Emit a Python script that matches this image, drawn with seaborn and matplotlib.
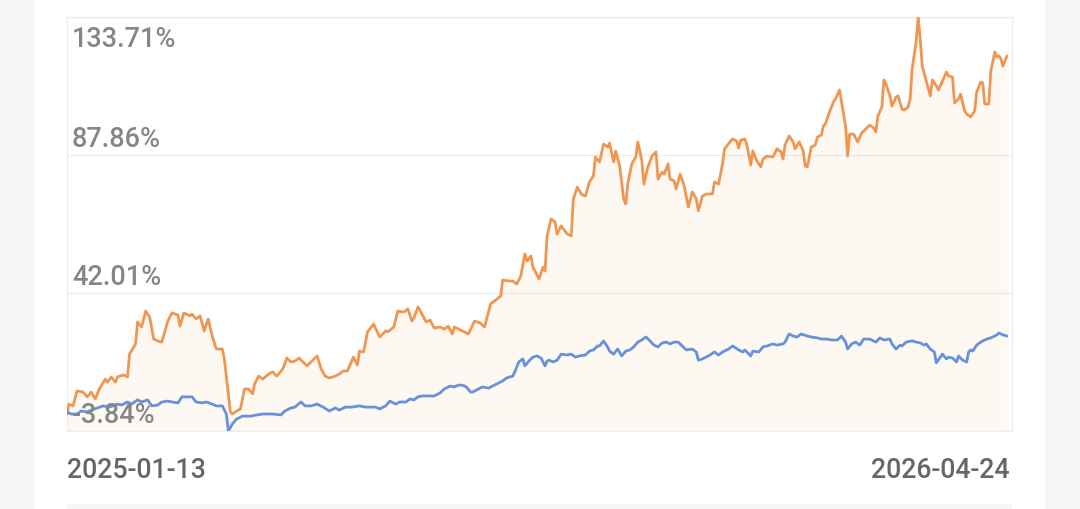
import matplotlib
matplotlib.use("Agg")
import matplotlib.pyplot as plt
from matplotlib.patches import Rectangle
import numpy as np
import pandas as pd
import seaborn as sns

# ---------------- data ----------------
start_date = "2025-01-13"
end_date = "2026-04-24"
y_ticks = [-3.84, 42.01, 87.86, 133.71]
y_tick_labels = ["-3.84%", "42.01%", "87.86%", "133.71%"]

# orange series: calendar-day offset from start date, cumulative return (%)
orange_days = [0, 1, 3, 5, 8, 10, 12, 14, 16, 19, 20, 22, 24, 25, 28, 30, 31, 34, 35, 37,
               39, 41, 43, 45, 47, 50, 52, 55, 56, 58, 61, 62, 64, 66, 68, 70, 72, 74, 77, 78,
               81, 82, 84, 86, 88, 90, 92, 93, 95, 97, 100, 102, 104, 107, 109, 111, 113, 115, 117, 119,
               121, 124, 126, 128, 130, 133, 135, 137, 139, 142, 144, 145, 147, 149, 152, 155, 158, 159, 162, 164,
               167, 169, 171, 172, 174, 176, 178, 180, 182, 185, 187, 189, 191, 192, 195, 197, 199, 202, 205, 207,
               210, 212, 215, 216, 219, 221, 223, 225, 227, 228, 230, 231, 234, 236, 237, 238, 240, 242, 243, 245,
               248, 250, 251, 253, 255, 257, 259, 261, 262, 264, 266, 268, 269, 271, 272, 274, 276, 277, 278, 280,
               282, 283, 285, 286, 288, 290, 292, 293, 295, 296, 298, 299, 301, 302, 304, 306, 308, 310, 312, 313,
               315, 317, 320, 321, 323, 325, 326, 329, 330, 332, 333, 334, 336, 337, 339, 340, 342, 344, 345, 347,
               350, 352, 354, 355, 356, 358, 360, 361, 363, 365, 366, 367, 369, 371, 372, 374, 375, 376, 378, 380,
               381, 383, 384, 386, 387, 388, 390, 392, 394, 396, 398, 400, 401, 402, 404, 405, 406, 408, 409, 411,
               412, 414, 415, 417, 418, 419, 421, 422, 423, 424, 426, 428, 429, 431, 432, 434, 436, 437, 439, 440,
               442, 443, 445, 446, 448, 450, 451, 453, 454, 455, 457, 458, 460, 461, 462, 463, 464, 466]
orange_vals = [1.8, 5.1, 4.5, 9.5, 9.1, 7.5, 9.1, 6.8, 10.1, 13.4, 12.4, 14.1, 12.4, 14.1, 14.8, 14.1, 21.7, 25.1, 32.4, 30.7,
               36.0, 34.0, 26.7, 26.1, 25.7, 32.7, 35.4, 34.7, 31.0, 35.4, 34.4, 35.0, 33.4, 34.4, 29.4, 33.4, 27.7, 23.4, 23.4, 20.1,
               2.5, 1.8, 2.8, 3.5, 10.1, 10.1, 8.5, 11.8, 14.4, 13.4, 15.1, 15.8, 14.4, 16.8, 20.4, 19.1, 19.4, 20.4, 19.1, 17.8,
               19.1, 21.1, 16.8, 14.4, 13.8, 14.4, 15.1, 16.1, 16.1, 20.7, 18.1, 22.7, 22.4, 29.1, 31.7, 27.4, 29.4, 29.1, 30.7, 36.0,
               35.7, 36.7, 32.7, 33.7, 37.4, 35.0, 32.4, 33.0, 30.4, 30.7, 30.0, 31.0, 28.4, 30.7, 29.7, 29.1, 28.4, 32.7, 32.0, 30.7,
               38.4, 39.4, 41.0, 46.3, 46.0, 46.0, 45.0, 47.7, 55.0, 52.6, 54.3, 50.6, 46.7, 50.6, 49.3, 61.0, 66.6, 65.6, 61.6, 64.3,
               61.6, 61.0, 73.2, 77.2, 74.9, 74.2, 78.9, 80.9, 87.2, 85.5, 91.5, 90.5, 91.8, 85.5, 89.2, 84.2, 73.2, 71.6, 78.2, 84.9,
               87.2, 92.2, 85.9, 78.2, 83.9, 87.5, 88.9, 79.9, 82.2, 81.5, 84.9, 79.9, 79.2, 76.6, 81.5, 77.6, 70.6, 75.6, 73.2, 69.3,
               74.2, 74.9, 74.9, 78.9, 78.2, 84.9, 89.9, 92.5, 93.2, 92.5, 90.2, 92.8, 93.2, 91.5, 84.5, 89.2, 85.9, 83.9, 86.5, 87.5,
               87.2, 89.9, 88.9, 86.5, 91.2, 94.2, 92.2, 89.9, 92.2, 89.2, 84.2, 83.9, 90.5, 91.2, 93.8, 94.5, 97.5, 98.2, 102.1, 105.5,
               106.5, 109.5, 105.5, 97.5, 87.5, 94.8, 94.8, 92.2, 95.2, 96.5, 97.8, 96.8, 95.5, 100.8, 103.8, 112.8, 111.5, 107.5, 104.1, 107.1,
               107.5, 103.1, 102.8, 103.8, 106.5, 116.4, 125.7, 133.71, 126.4, 117.4, 112.4, 107.5, 112.8, 110.8, 109.5, 112.4, 115.4, 114.1, 113.8, 105.1,
               106.5, 108.1, 102.5, 101.5, 100.5, 102.5, 108.8, 112.1, 111.8, 104.8, 104.8, 115.8, 122.1, 120.4, 120.8, 119.8, 117.4, 120.8]

# blue series: calendar-day offset from start date, cumulative return (%)
blue_days = [0, 2, 5, 7, 10, 12, 15, 18, 21, 25, 27, 30, 32, 35, 37, 40, 42, 45, 47, 50,
             52, 55, 57, 59, 62, 64, 67, 69, 72, 74, 77, 79, 80, 82, 84, 87, 91, 94, 97, 102,
             106, 108, 111, 113, 116, 118, 121, 124, 127, 130, 133, 135, 138, 141, 145, 148, 150, 153, 155, 158,
             160, 163, 165, 168, 170, 172, 174, 176, 179, 182, 185, 187, 190, 192, 194, 196, 198, 200, 201, 204,
             206, 209, 211, 214, 216, 218, 221, 222, 224, 226, 227, 229, 231, 233, 235, 237, 238, 239, 241, 243,
             245, 248, 250, 252, 254, 257, 259, 261, 263, 264, 266, 268, 269, 271, 273, 275, 277, 279, 281, 283,
             285, 287, 289, 291, 293, 295, 297, 299, 301, 303, 305, 307, 310, 312, 313, 315, 318, 321, 323, 325,
             328, 330, 333, 335, 336, 339, 340, 343, 345, 347, 350, 352, 355, 356, 358, 360, 362, 364, 367, 369,
             372, 374, 377, 379, 382, 384, 386, 387, 389, 391, 393, 395, 398, 401, 403, 405, 408, 409, 411, 413,
             414, 416, 419, 421, 423, 425, 426, 428, 430, 431, 433, 434, 436, 437, 439, 441, 442, 444, 446, 447,
             448, 449, 451, 453, 454, 456, 458, 459, 461, 462, 464, 466]
blue_vals = [2.5, 1.8, 1.8, 2.8, 2.5, 3.1, 3.8, 4.5, 4.1, 5.1, 4.8, 5.8, 5.1, 6.5, 5.8, 6.5, 4.5, 4.8, 5.8, 6.1,
             5.8, 5.5, 7.5, 7.5, 7.5, 5.8, 5.5, 5.8, 5.1, 4.5, 4.5, 1.8, -3.84, -1.5, 0.1, 1.1, 1.1, 1.5, 1.8, 1.8,
             1.5, 2.8, 3.8, 4.1, 5.8, 4.5, 4.5, 5.1, 4.1, 2.8, 3.8, 3.1, 4.1, 4.1, 4.5, 4.1, 4.1, 4.1, 3.5, 4.5,
             6.1, 5.1, 5.8, 5.8, 6.8, 6.5, 7.5, 7.8, 7.8, 7.8, 8.8, 10.1, 11.1, 10.8, 11.4, 11.4, 10.8, 9.1, 9.1, 10.1,
             10.8, 10.4, 11.1, 12.1, 12.8, 13.8, 14.4, 15.8, 19.1, 20.1, 17.8, 19.4, 20.7, 21.1, 20.4, 17.8, 19.4, 19.7, 19.1, 19.7,
             21.7, 21.4, 21.7, 20.7, 21.1, 21.4, 22.7, 23.1, 24.4, 24.4, 26.1, 24.1, 22.7, 21.7, 23.4, 21.1, 22.7, 23.1, 24.1, 25.7,
             26.4, 27.4, 26.1, 24.7, 24.1, 25.4, 25.7, 25.1, 25.7, 25.7, 24.4, 23.1, 23.4, 22.4, 19.7, 20.1, 21.1, 22.4, 21.4, 22.4,
             23.4, 24.4, 23.1, 22.4, 23.1, 21.1, 22.7, 22.4, 24.1, 24.4, 25.1, 24.7, 25.1, 25.7, 28.4, 27.7, 27.4, 28.4, 27.7, 27.4,
             27.1, 26.7, 26.7, 26.4, 26.4, 27.7, 25.7, 23.4, 25.1, 25.7, 24.7, 26.7, 26.7, 25.7, 27.1, 26.4, 26.7, 25.1, 23.4, 24.7,
             24.4, 25.7, 26.1, 25.7, 25.4, 24.7, 25.1, 23.4, 22.4, 18.8, 20.7, 21.7, 20.1, 20.7, 20.4, 19.1, 21.1, 19.7, 19.1, 22.4,
             23.1, 22.7, 24.7, 25.7, 26.1, 26.7, 27.1, 27.4, 28.1, 28.7, 28.1, 27.7]

# ---------------- frames ----------------
t0 = pd.Timestamp(start_date)
orange_df = pd.DataFrame({"date": t0 + pd.to_timedelta(orange_days, unit="D"), "ret": orange_vals})
blue_df = pd.DataFrame({"date": t0 + pd.to_timedelta(blue_days, unit="D"), "ret": blue_vals})

# ---------------- style ----------------
sns.set_theme(style="white")
plt.rcParams["font.family"] = ["Roboto", "DejaVu Sans"]

W, H = 1080, 510
fig = plt.figure(figsize=(W / 100, H / 100), dpi=100, facecolor="#f5f5f5")

# white card and lower strip
fig.add_artist(Rectangle((34 / W, 0), (1045 - 34) / W, 1, transform=fig.transFigure,
                         facecolor="white", edgecolor="none", zorder=0))
fig.add_artist(Rectangle((67 / W, 0), (1012 - 67) / W, 5 / H, transform=fig.transFigure,
                         facecolor="#f6f6f6", edgecolor="none", zorder=0.5))

ax = fig.add_axes([67 / W, (H - 432) / H, (1012 - 67) / W, (432 - 18) / H])
ax.set_facecolor("none")

ORANGE = "#ef9651"
BLUE = "#6692d9"

ax.fill_between(orange_df["date"], orange_df["ret"], y_ticks[0], color="#f7a55c", alpha=0.07,
                linewidth=0, zorder=1)
sns.lineplot(data=orange_df, x="date", y="ret", color=ORANGE, linewidth=2.0, ax=ax, zorder=3,
             solid_joinstyle="round", solid_capstyle="round")
sns.lineplot(data=blue_df, x="date", y="ret", color=BLUE, linewidth=2.0, ax=ax, zorder=4,
             solid_joinstyle="round", solid_capstyle="round")

t_end = pd.Timestamp(end_date)
ax.set_xlim(t0, t_end + pd.Timedelta(days=2.5))
ax.set_ylim(y_ticks[0], y_ticks[-1])

for v in y_ticks:
    ax.axhline(v, color="#eeeeee", linewidth=1, zorder=0.5)

for s in ax.spines.values():
    s.set_color("#eeeeee")
    s.set_linewidth(1)

ax.set_xticks([])
ax.set_yticks([])
ax.set_xlabel("")
ax.set_ylabel("")

# y labels inside plot
for v, lab in zip(y_ticks, y_tick_labels):
    if v == y_ticks[-1]:
        off = -21
    else:
        off = 6.3
    ax.annotate(lab, xy=(0, v), xycoords=("axes fraction", "data"),
                xytext=(3.5, off), textcoords="offset points",
                ha="left", va="baseline", fontsize=19.5, fontweight="medium",
                color="#868686", zorder=10)

# x end labels
ax.annotate(start_date, xy=(0, 0), xycoords="axes fraction", xytext=(0, -33),
            textcoords="offset points", ha="left", va="baseline", fontsize=19.3,
            fontweight="medium", color="#666666", annotation_clip=False)
ax.annotate(end_date, xy=(1, 0), xycoords="axes fraction", xytext=(-1.5, -33),
            textcoords="offset points", ha="right", va="baseline", fontsize=19.3,
            fontweight="medium", color="#666666", annotation_clip=False)

fig.savefig("out.png", dpi=100, facecolor=fig.get_facecolor())
